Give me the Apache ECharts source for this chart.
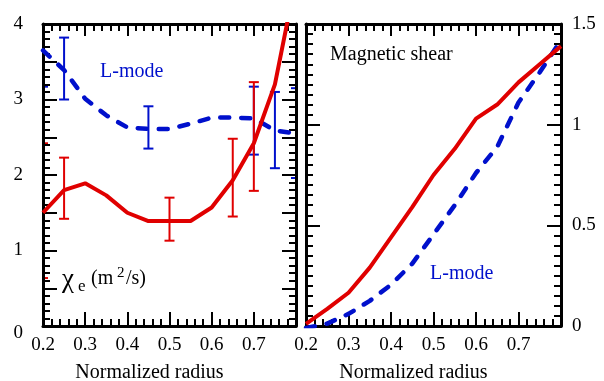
<!DOCTYPE html>
<html>
<head>
<meta charset="utf-8">
<script src="https://cdn.jsdelivr.net/npm/echarts@6/dist/echarts.min.js"></script>
<style>
  html, body { margin: 0; padding: 0; background: #fff; }
  #chart { width: 604px; height: 381px; }
</style>
</head>
<body>
<div id="chart"></div>
<script>
// normalized radius grid shared by all curves
const radius = [0.2, 0.25, 0.3, 0.35, 0.4, 0.45, 0.5, 0.55, 0.6, 0.65, 0.7, 0.75, 0.8];
// left panel: chi_e (m^2/s)
const chiH = [1.5, 1.8, 1.89, 1.73, 1.5, 1.39, 1.39, 1.39, 1.57, 1.93, 2.42, 3.2, 4.6];
const chiL = [3.65, 3.39, 3.01, 2.79, 2.63, 2.61, 2.61, 2.68, 2.76, 2.76, 2.75, 2.59, 2.55];
// right panel: magnetic shear
const shearH = [0.01, 0.085, 0.165, 0.29, 0.44, 0.59, 0.75, 0.88, 1.03, 1.10, 1.21, 1.30, 1.39];
const shearL = [-0.01, 0.012, 0.06, 0.125, 0.205, 0.31, 0.455, 0.60, 0.76, 0.89, 1.11, 1.26, 1.42];
// error bars on chi_e
const errXH = [0.2, 0.25, 0.5, 0.65, 0.7];
const errLoH = [0.635, 1.42, 1.13, 1.45, 1.79];
const errHiH = [2.42, 2.23, 1.70, 2.48, 3.23];
const errXL = [0.2, 0.25, 0.45, 0.7, 0.75, 0.8];
const errLoL = [3.17, 3.0, 2.35, 2.27, 2.09, 1.96];
const errHiL = [4.2, 3.82, 2.91, 3.17, 3.10, 3.15];

const RED = '#e00000';
const BLUE = '#0010cc';
const FONT = 'Liberation Serif';

let chart = echarts.init(document.getElementById('chart'));

function pairs(xs, ys) { return xs.map((x, i) => [x, ys[i]]); }
function triples(xs, lo, hi) { return xs.map((x, i) => [x, lo[i], hi[i]]); }

function errItem(params, api) {
  let x = api.value(0);
  let top = api.coord([x, api.value(2)]);
  let bot = api.coord([x, api.value(1)]);
  let w = 5;
  let style = { stroke: api.visual('color'), lineWidth: 2 };
  return {
    type: 'group',
    children: [
      { type: 'line', shape: { x1: top[0], y1: top[1], x2: bot[0], y2: bot[1] }, style: style },
      { type: 'line', shape: { x1: top[0] - w, y1: top[1], x2: top[0] + w, y2: top[1] }, style: style },
      { type: 'line', shape: { x1: bot[0] - w, y1: bot[1], x2: bot[0] + w, y2: bot[1] }, style: style }
    ]
  };
}

// frame axis (ticks inward, mirrored on all sides)
function xAx(grid, pos, labels) {
  return {
    type: 'value', gridIndex: grid, position: pos, min: 0.2, max: 0.8, interval: 0.1, z: 3,
    axisLine: { show: true, onZero: false, lineStyle: { color: '#000', width: 3 } },
    axisTick: { show: true, inside: true, length: pos === 'top' ? 12 : 14, lineStyle: { color: '#000', width: 2 } },
    minorTick: { show: true, splitNumber: 5, length: 7, lineStyle: { color: '#000', width: 2 } },
    splitLine: { show: false },
    axisLabel: {
      show: labels, showMaxLabel: false, margin: 10, color: '#000',
      fontFamily: FONT, fontSize: 19, formatter: v => v.toFixed(1)
    },
    name: labels ? 'Normalized radius' : '',
    nameLocation: 'middle', nameGap: 37,
    nameTextStyle: { fontFamily: FONT, fontSize: 20, color: '#000', padding: [0, 40, 0, 0] }
  };
}

function yAx(grid, pos, max, minorSplit, labels, fmt, margin) {
  return {
    type: 'value', gridIndex: grid, position: pos, min: 0, max: max, interval: 0.5, z: 3,
    axisLine: { show: true, onZero: false, lineStyle: { color: '#000', width: 3 } },
    axisTick: { show: true, inside: true, length: 14, lineStyle: { color: '#000', width: 2 } },
    minorTick: { show: true, splitNumber: minorSplit, length: 7, lineStyle: { color: '#000', width: 2 } },
    splitLine: { show: false },
    axisLabel: {
      show: labels, margin: margin, color: '#000', fontFamily: FONT, fontSize: 19,
      formatter: fmt, rich: { z: { fontFamily: FONT, fontSize: 19, padding: [14, 0, 0, 0] } }
    }
  };
}

let option = {
  animation: false,
  grid: [
    { left: 43, top: 24, width: 253, height: 302, outerBoundsMode: 'none' },
    { left: 306, top: 24, width: 255, height: 302, outerBoundsMode: 'none' }
  ],
  xAxis: [
    xAx(0, 'bottom', true),
    xAx(0, 'top', false),
    xAx(1, 'bottom', true),
    xAx(1, 'top', false)
  ],
  yAxis: [
    yAx(0, 'left', 4, 5, true, v => v === 0 ? '{z|0}' : (Number.isInteger(v) ? String(v) : ''), 20),
    yAx(0, 'right', 4, 5, false, null, 8),
    yAx(1, 'right', 1.5, 10, true, v => String(v), 11),
    yAx(1, 'left', 1.5, 10, false, null, 8)
  ],
  series: [
    {
      type: 'line', xAxisIndex: 0, yAxisIndex: 0, data: pairs(radius, chiL),
      symbol: 'none', clip: true,
      lineStyle: { color: BLUE, width: 4.5, type: [9, 12], cap: 'round' }
    },
    {
      type: 'custom', xAxisIndex: 0, yAxisIndex: 0, clip: true,
      itemStyle: { color: BLUE }, data: triples(errXL, errLoL, errHiL), renderItem: errItem
    },
    {
      type: 'line', xAxisIndex: 0, yAxisIndex: 0, data: pairs(radius, chiH),
      symbol: 'none', clip: true,
      lineStyle: { color: RED, width: 4 }
    },
    {
      type: 'custom', xAxisIndex: 0, yAxisIndex: 0, clip: true,
      itemStyle: { color: RED }, data: triples(errXH, errLoH, errHiH), renderItem: errItem
    },
    {
      type: 'line', xAxisIndex: 2, yAxisIndex: 2, data: pairs(radius, shearL),
      symbol: 'none', clip: true,
      lineStyle: { color: BLUE, width: 4.5, type: [9, 12], cap: 'round' }
    },
    {
      type: 'line', xAxisIndex: 2, yAxisIndex: 2, data: pairs(radius, shearH),
      symbol: 'none', clip: true,
      lineStyle: { color: RED, width: 4 }
    }
  ],
  graphic: [
    { type: 'text', left: 100, top: 62, style: { text: 'L-mode', fill: BLUE, font: '20px "Liberation Serif"' } },
    { type: 'text', left: 430, top: 264, style: { text: 'L-mode', fill: BLUE, font: '20px "Liberation Serif"' } },
    { type: 'text', left: 330, top: 45, style: { text: 'Magnetic shear', fill: '#000', font: '20px "Liberation Serif"' } },
    { type: 'text', left: 62, top: 266, style: { text: 'χ', fill: '#000', font: '27px "Liberation Serif"' } },
    { type: 'text', left: 78, top: 278, style: { text: 'e', fill: '#000', font: '17px "Liberation Serif"' } },
    { type: 'text', left: 91, top: 269, style: { text: '(m', fill: '#000', font: '20px "Liberation Serif"' } },
    { type: 'text', left: 117, top: 266, style: { text: '2', fill: '#000', font: '15px "Liberation Serif"' } },
    { type: 'text', left: 126, top: 269, style: { text: '/s)', fill: '#000', font: '20px "Liberation Serif"' } }
  ]
};

chart.setOption(option);
</script>
</body>
</html>
